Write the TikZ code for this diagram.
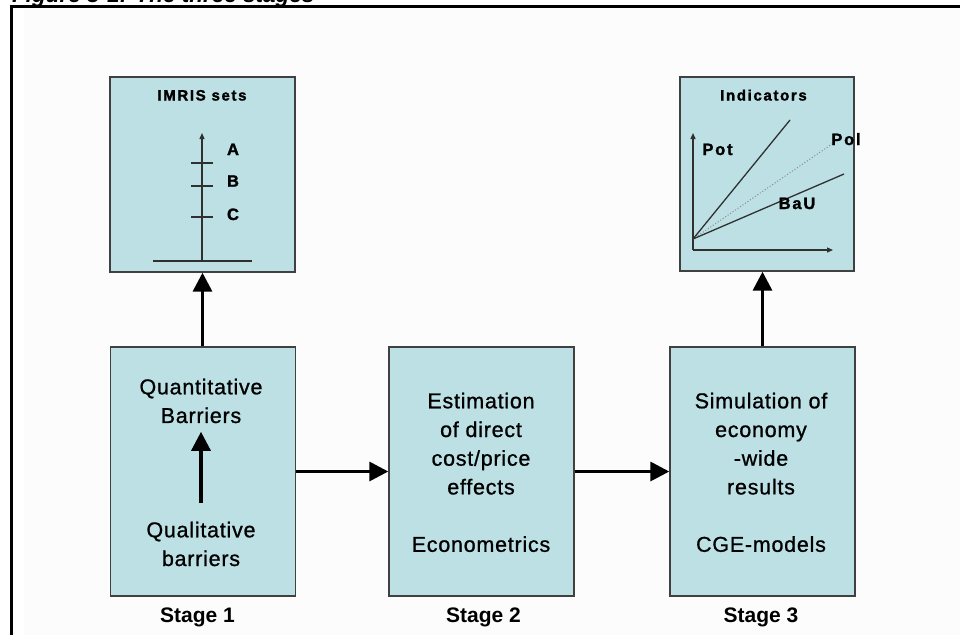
\documentclass[tikz,border=0pt]{standalone}
\usepackage{fontspec}
\setmainfont{Liberation Sans}
\newfontfamily\boxfont{Liberation Sans}[LetterSpace=3.5,FakeBold=0.9]
\newfontfamily\chartfont{Liberation Sans Bold}[LetterSpace=11,FakeBold=1.6]
\usetikzlibrary{arrows.meta}
\definecolor{boxfill}{HTML}{BCE0E4}
\definecolor{boxline}{HTML}{404040}
\definecolor{pagegray}{HTML}{FCFCFC}
\definecolor{curve}{HTML}{303030}
\definecolor{dotcurve}{HTML}{8A8A8A}
\tikzset{
  stagebox/.style={draw=boxline, fill=boxfill, line width=1.4pt, inner sep=0pt,
    minimum width=185pt, minimum height=249pt},
  chartbox/.style={draw=boxline, fill=boxfill, line width=1.4pt, inner sep=0pt},
  flow/.style={line width=3.4pt, -{Triangle[length=19pt,width=19pt]}},
  boxtext/.style={font=\boxfont\fontsize{21.5}{28.7}\selectfont, align=center,
    anchor=north, inner sep=0pt},
  stagelabel/.style={font=\bfseries\fontsize{21}{25}\selectfont, anchor=base, inner sep=0pt},
  charttitle/.style={font=\chartfont\fontsize{15}{18}\selectfont, anchor=base, inner sep=0pt},
  chartlabel/.style={font=\chartfont\fontsize{16.5}{19}\selectfont, anchor=base, inner sep=0pt},
  axis/.style={line width=1.3pt, curve, -{Triangle[length=6pt,width=5pt]}},
  plain/.style={line width=1.3pt, curve},
}
\begin{document}
\begin{tikzpicture}[x=1pt, y=-1pt]
  \useasboundingbox (0,0) rectangle (960,635);
  \clip (0,0) rectangle (960,635);

  % page background and frame
  \fill[pagegray] (24,7) rectangle (960,635);
  \node[font=\bfseries\itshape\fontsize{22.5}{26}\selectfont, anchor=base west, inner sep=0pt]
    (caption) at (12,2) {Figure 3-1: The three stages};
  \draw[line width=2.2pt] (11.5,635) -- (11.5,6.5) -- (960,6.5);

  % the three stage boxes
  \node[stagebox] (s1) at (203,471.5) {};
  \node[stagebox] (s2) at (481.5,471.5) {};
  \node[stagebox] (s3) at (762.5,471.5) {};

  % result boxes above stages 1 and 3
  \node[chartbox, minimum width=185pt, minimum height=195pt] (imris) at (202.5,174.5) {};
  \node[chartbox, minimum width=174pt, minimum height=194pt] (ind) at (767,174) {};

  % stage 1 contents
  \node[boxtext] (quant) at (201,374) {\strut Quantitative\\Barriers\strut};
  \node[boxtext] (qual) at (201,517) {\strut Qualitative\\barriers\strut};
  \draw[flow, shorten <=14pt] (qual.north) -- (quant.south);

  % stage 2 and 3 contents
  \node[boxtext] (est) at (481,388)
    {\strut Estimation\\of direct\\cost/price\\effects\\[28.7pt]Econometrics\strut};
  \node[boxtext] (sim) at (761,388)
    {\strut Simulation of\\economy\\-wide\\results\\[28.7pt]CGE-models\strut};

  % stage labels
  \node[stagelabel] (lab1) at (197.5,622.5) {Stage 1};
  \node[stagelabel] (lab2) at (483.5,622.5) {Stage 2};
  \node[stagelabel] (lab3) at (761,622.5) {Stage 3};

  % flow between the boxes
  \draw[flow] (s1) -- (s2);
  \draw[flow] (s2) -- (s3);
  \draw[flow] (s1.north -| imris.south) -- (imris.south);
  \draw[flow] (s3.north) -- (s3.north |- ind.south);

  % IMRIS sets scale
  \node[charttitle] (imristitle) at (202,100.5) {IMRIS sets};
  \coordinate (ibase) at (202,261);
  \coordinate (itop) at (202,133);
  \coordinate (ileft) at (153,261);
  \coordinate (iright) at (252,261);
  \draw[plain] (ileft) -- (iright);
  \draw[axis] (ibase) -- (itop);
  \foreach \ty/\nm in {163/ta,186/tb,217/tc}{
    \coordinate (\nm l) at (191,\ty);
    \coordinate (\nm r) at (213,\ty);
    \draw[plain] (\nm l) -- (\nm r);
  }
  \node[chartlabel] (la) at (233,155) {A};
  \node[chartlabel] (lb) at (233,186.7) {B};
  \node[chartlabel] (lc) at (233,220) {C};

  % indicators chart
  \node[charttitle] (indtitle) at (763.5,100.5) {Indicators};
  \coordinate (org) at (693,250);
  \coordinate (yend) at (693,133);
  \coordinate (xend) at (833,250);
  \coordinate (start) at (693,239);
  \coordinate (potend) at (790,120);
  \coordinate (polend) at (832,144);
  \coordinate (bauend) at (844,174);
  \draw[axis] (org) -- (yend);
  \draw[axis] (org) -- (xend);
  \draw[plain] (start) -- (potend);
  \draw[line width=1pt, dotcurve, dotted] (start) -- (polend);
  \draw[plain] (start) -- (bauend);
  \node[chartlabel] (pot) at (717.5,155) {Pot};
  \node[chartlabel] (pol) at (846,145) {Pol};
  \node[chartlabel] (bau) at (797,209) {BaU};
\end{tikzpicture}
\end{document}
